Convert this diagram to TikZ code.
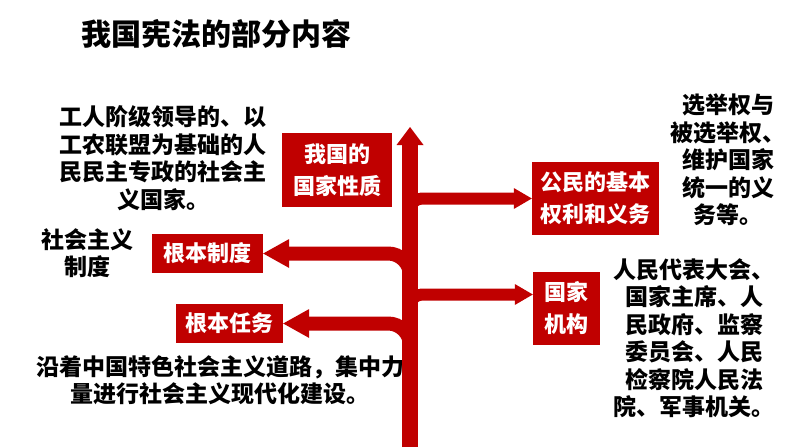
\documentclass[tikz,border=0pt]{standalone}
\usepackage{fontspec}
\setmainfont{Noto Sans CJK SC}
\usetikzlibrary{arrows.meta,positioning}
\definecolor{cred}{RGB}{192,0,0}
\tikzset{
  rbox/.style={fill=cred, text=white, inner sep=0pt, align=center,
               font=\fontsize{22}{32}\selectfont\bfseries},
  txt/.style={align=center, font=\fontsize{23}{27.5}\selectfont\bfseries},
  ttl/.style={font=\fontsize{30}{36}\selectfont\bfseries},
  trunk/.style={-{Triangle[length=18pt,width=27pt,line width=0pt]}, cred, line width=16pt},
  rbr/.style={-{Triangle[length=18pt,width=21pt,line width=0pt]}, cred, line width=12pt,
              rounded corners=12pt},
  lbr/.style={-{Triangle[length=26pt,width=29pt,line width=0pt]}, cred, line width=14pt,
              rounded corners=22pt},
}

\begin{document}
\begin{tikzpicture}[x=1pt, y=-1pt]
  \useasboundingbox (0,0) rectangle (794,447);
  \node[ttl] (title) at (216,33.5) {我国宪法的部分内容};
  % red labels
  \node[rbox, minimum width=110pt, minimum height=74pt] (nature) at (337,170) {我国的\\国家性质};
  \node[rbox, minimum width=111pt, minimum height=39pt] (system) at (207.5,253.5) {根本制度};
  \node[rbox, minimum width=107pt, minimum height=39pt] (task) at (229.5,323.5) {根本任务};
  \node[rbox, minimum width=127pt, minimum height=73pt] (rights) at (595.5,198.5) {公民的基本\\权利和义务};
  \node[rbox, minimum width=67pt, minimum height=73pt] (organs) at (566.5,308.5) {国家\\机构};
  % explanations
  \node[txt] (naturetxt) at (163,158) {工人阶级领导的、以\\工农联盟为基础的人\\民民主专政的社会主\\义国家。};
  \node[txt] (systemtxt) at (87,253) {社会主义\\制度};
  \node[txt] (tasktxt) at (220,380) {沿着中国特色社会主义道路，集中力\\量进行社会主义现代化建设。};
  \node[txt] (rightstxt) at (728,160) {选举权与\\被选举权、\\维护国家\\统一的义\\务等。};
  \node[txt] (organstxt) at (694,338) {人民代表大会、\\国家主席、人\\民政府、监察\\委员会、人民\\检察院人民法\\院、军事机关。};
  % trunk and branches
  \coordinate (root) at (410,447);
  \coordinate (apex) at (410,127);
  \coordinate (j1) at (410,222);
  \coordinate (j2) at (410,318);
  \coordinate (j3) at (410,280);
  \coordinate (j4) at (410,360);
  \draw[trunk] (root) -- (apex);
  \draw[rbr] (j1) |- (rights.west);
  \draw[rbr] (j2) |- ([yshift=14pt]organs.west);
  \draw[lbr] (j3) |- (system.east);
  \draw[lbr] (j4) |- (task.east);
\end{tikzpicture}
\end{document}
